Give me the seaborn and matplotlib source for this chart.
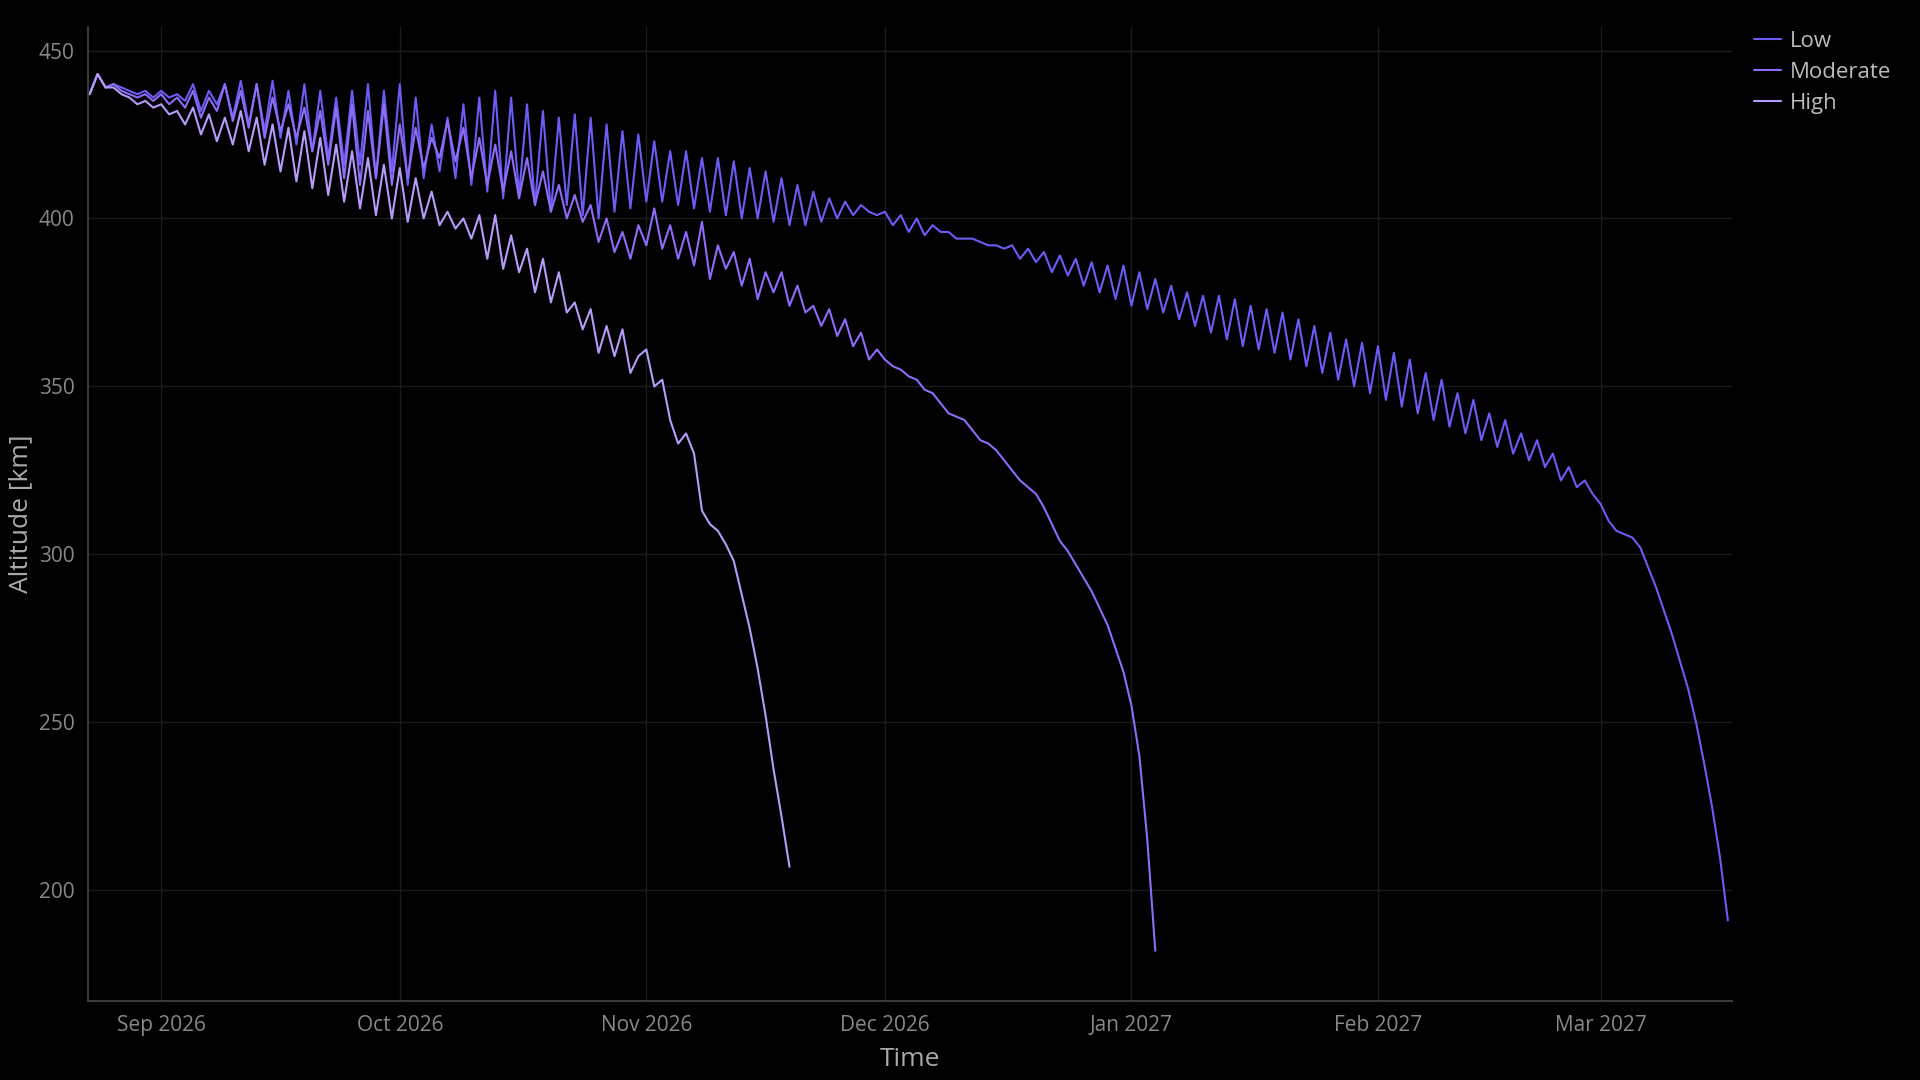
import matplotlib
matplotlib.use("Agg")
import matplotlib.pyplot as plt
import matplotlib.dates as mdates
import seaborn as sns
import pandas as pd

start = "2026-08-23"
low = [437,443,439,440,439,438,437,438,436,
 438,436,437,435,440,432,438,434,440,430,441,428,440,426,441,424,438,422,440,420,438,418,436,416,438,416,440,412,438,414,
 440,410,436,412,428,414,430,412,434,410,436,408,438,406,436,407,434,404,432,402,430,404,431,401,430,400,428,402,426,403,425,
 405,423,405,420,404,420,403,418,402,418,401,417,400,415,400,414,399,412,398,410,398,408,399,406,400,405,401,404,402,401,
 402,398,401,396,400,395,398,396,396,394,394,394,393,392,392,391,392,388,391,387,390,384,389,383,388,380,387,378,386,376,386,
 374,384,373,382,372,380,370,378,368,377,366,377,364,376,362,374,361,373,360,372,358,370,356,368,354,366,352,364,350,363,348,
 362,346,360,344,358,342,354,340,352,338,348,336,346,334,342,332,340,330,336,328,334,326,330,322,326,320,322,318,
 315,310,307,306,305,302,296,290,283,276,268,260,250,238,225,210,191]
moderate = [437,443,439,440,438,437,436,437,435,
 437,434,436,433,438,430,436,432,440,429,438,427,440,424,436,426,434,424,433,420,432,416,433,412,434,410,432,412,434,410,
 428,412,427,415,424,418,429,417,427,412,424,410,422,408,420,406,418,404,414,402,410,400,407,399,404,393,400,390,396,388,398,
 392,403,391,398,388,396,386,399,382,392,385,390,380,388,376,384,378,384,374,380,372,374,368,373,365,370,362,366,358,361,
 358,356,355,353,352,349,348,345,342,341,340,337,334,333,331,328,325,322,320,318,314,309,304,301,297,293,289,284,279,272,265,
 255,240,215,182]
high = [437,443,439,439,437,436,434,435,433,
 434,431,432,428,433,425,431,423,430,422,432,420,430,416,428,414,427,411,426,409,424,407,422,405,420,403,418,401,416,400,
 415,399,412,400,408,398,402,397,400,394,401,388,401,385,395,384,391,378,388,375,384,372,375,367,373,360,368,359,367,354,359,
 361,350,352,340,333,336,330,313,309,307,303,298,288,278,266,252,236,222,207]
series = {"Low": low, "Moderate": moderate, "High": high}
colors = {"Low": "#6a5cf5", "Moderate": "#8e6cf7", "High": "#b59cf9"}

frames = []
for name, vals in series.items():
    frames.append(pd.DataFrame({"Time": pd.date_range(start, periods=len(vals), freq="D"),
                                "Altitude": vals, "Scenario": name}))
df = pd.concat(frames)

sns.set_theme(style="dark")
plt.rcParams["font.family"] = ["Open Sans", "DejaVu Sans"]
fig = plt.figure(figsize=(19.2, 10.8), dpi=100, facecolor="black")
ax = fig.add_axes([0.046, 0.073, 0.856, 0.902])
ax.set_facecolor("black")
sns.lineplot(data=df, x="Time", y="Altitude", hue="Scenario", palette=colors, ax=ax, linewidth=1.5)
ax.set_xlim(pd.Timestamp("2026-08-22 20:00"), pd.Timestamp("2027-03-17 12:00"))
ax.set_ylim(167, 457)
ax.set_yticks([200, 250, 300, 350, 400, 450])
ax.xaxis.set_major_locator(mdates.MonthLocator())
ax.xaxis.set_major_formatter(mdates.DateFormatter("%b %Y"))
ax.grid(True, color="#1c1c1c", linewidth=1)
for s in ["top", "right"]:
    ax.spines[s].set_visible(False)
for s in ["left", "bottom"]:
    ax.spines[s].set_color("#444444")
ax.tick_params(colors="#888888", labelsize=15, length=0, pad=10)
ax.set_xlabel("Time", color="#aaaaaa", fontsize=19, labelpad=8)
ax.set_ylabel("Altitude [km]", color="#aaaaaa", fontsize=19)
leg = ax.legend(loc="upper left", bbox_to_anchor=(1.008, 1.005), frameon=False, fontsize=16,
                handlelength=1.2, handletextpad=0.4, labelspacing=0.45, borderaxespad=0)
for t in leg.get_texts():
    t.set_color("#bbbbbb")
fig.savefig("out.png", dpi=100, facecolor="black")
